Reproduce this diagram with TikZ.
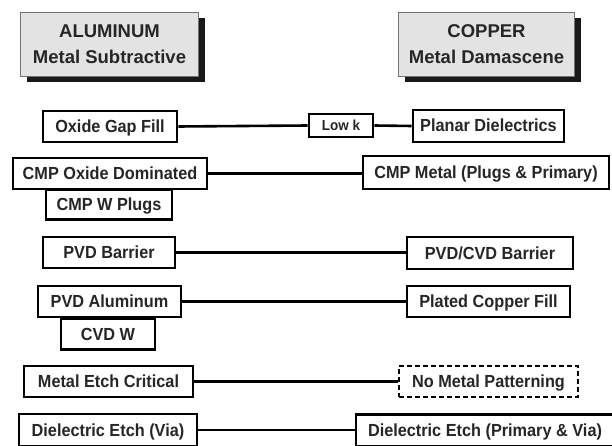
\documentclass[tikz,border=0pt]{standalone}
\usepackage{fontspec}
\setmainfont{Liberation Sans}
\newfontfamily\boxfont[FakeStretch=0.93]{Liberation Sans}
\usetikzlibrary{shadows}
\begin{document}
\begin{tikzpicture}[x=1pt,y=-1pt,
  box/.style={draw=black, line width=2.6pt, fill=white, inner sep=0pt,
    text height=12.6pt, text depth=0.6pt,
    font=\boxfont\bfseries\fontsize{17.5}{19}\selectfont, text=black!85},
  dbox/.style={box, dash pattern=on 5pt off 3pt},
  hdr/.style={draw=gray!90!black, line width=1.2pt, fill=gray!22, align=center, inner sep=0pt,
    font=\bfseries\fontsize{18.5}{26}\selectfont, text=black!85,
    drop shadow={shadow xshift=6pt, shadow yshift=-6pt, fill=black, opacity=0.9}},
  link/.style={line width=2.6pt}]
\useasboundingbox (0,0) rectangle (612,446);
\clip (0,0) rectangle (612,446);
% headers
\node[hdr, minimum width=178pt, minimum height=64pt] (alh) at (109.5,44.5) {ALUMINUM\\Metal Subtractive};
\node[hdr, minimum width=176pt, minimum height=64pt] (cuh) at (486.5,44.5) {COPPER\\Metal Damascene};
% row 1
\node[box, minimum width=134pt, minimum height=31pt] (ogf) at (110,126.5) {Oxide Gap Fill};
\node[box, minimum width=64pt, minimum height=23pt, text height=10.5pt, text depth=0.5pt,
  font=\boxfont\bfseries\fontsize{14.5}{16}\selectfont] (lowk) at (341,125.5) {Low k};
\node[box, minimum width=151pt, minimum height=32pt] (pd) at (488.5,126) {Planar Dielectrics};
\draw[link] (ogf.east) -- (lowk.west);
\draw[link] (lowk.east) -- (pd.west);
% row 2
\node[box, minimum width=194pt, minimum height=31pt] (cmpo) at (110,173.5) {CMP Oxide Dominated};
\node[box, minimum width=246pt, minimum height=33pt] (cmpm) at (486,172.5) {CMP Metal (Plugs \& Primary)};
\draw[link] (cmpo.east) -- (cmpo.east -| cmpm.west);
\node[box, minimum width=126pt, minimum height=30pt] (cmpw) at (109,204.5) {CMP W Plugs};
% row 3
\node[box, minimum width=132pt, minimum height=31pt] (pvdb) at (109,252.5) {PVD Barrier};
\node[box, minimum width=166pt, minimum height=32pt] (pcvdb) at (490,253) {PVD/CVD Barrier};
\draw[link] (pvdb.east) -- (pvdb.east -| pcvdb.west);
% row 4
\node[box, minimum width=143pt, minimum height=31pt] (pvda) at (109.5,301.5) {PVD Aluminum};
\node[box, minimum width=163pt, minimum height=31pt] (pcf) at (488.5,301.5) {Plated Copper Fill};
\draw[link] (pvda.east) -- (pcf.west);
\node[box, minimum width=94pt, minimum height=31pt] (cvdw) at (108,334) {CVD W};
% row 5
\node[box, minimum width=169pt, minimum height=31pt] (mec) at (108.5,381.5) {Metal Etch Critical};
\node[dbox, minimum width=179pt, minimum height=31pt] (nmp) at (488.5,381.5) {No Metal Patterning};
\draw[link] (mec.east) -- (nmp.west);
% row 6
\node[box, minimum width=178pt, minimum height=32pt] (dev) at (108,430) {Dielectric Etch (Via)};
\node[box, minimum width=258pt, minimum height=32pt] (depv) at (485,430.5) {Dielectric Etch (Primary \& Via)};
\draw[link] (dev.east) -- (dev.east -| depv.west);
\end{tikzpicture}
\end{document}
